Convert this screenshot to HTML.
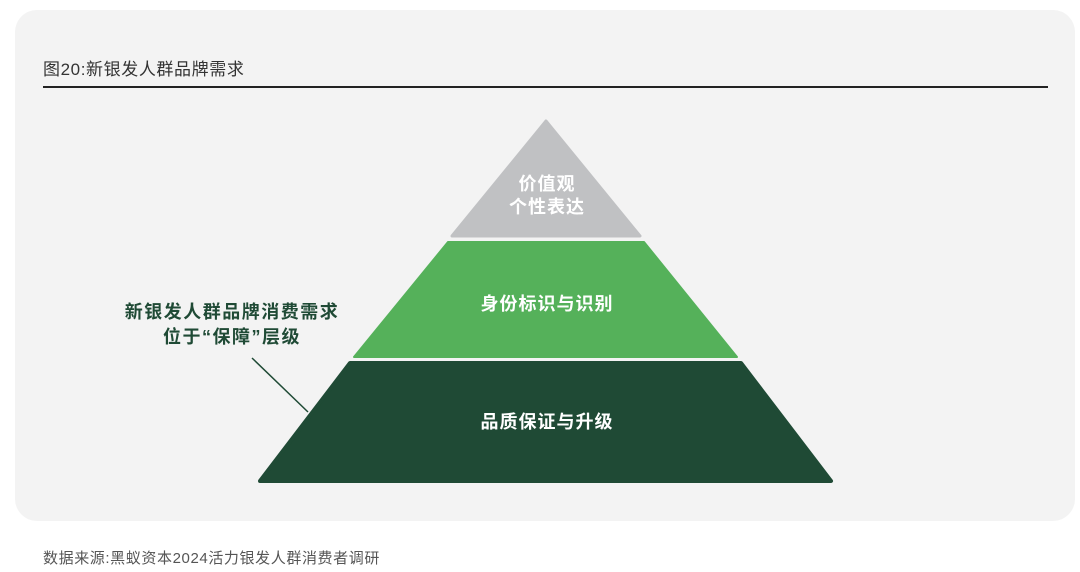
<!DOCTYPE html>
<html><head><meta charset="utf-8"><style>
body{margin:0;width:1080px;height:572px;background:#fff;position:relative;font-family:"Liberation Sans","Noto Sans CJK SC",sans-serif;overflow:hidden}
.panel{position:absolute;left:15px;top:10px;width:1060px;height:511px;background:#f3f3f3;border-radius:22px}
.t{position:absolute;white-space:nowrap}
</style></head><body>
<div class="panel"></div>
<div class="t" style="left:43px;top:55px;font-size:17px;letter-spacing:0.6px;color:#333">图20:新银发人群品牌需求</div>
<div style="position:absolute;left:43px;top:86px;width:1005px;height:1.5px;background:#222"></div>
<svg style="position:absolute;left:0;top:0" width="1080" height="572">
<polygon points="546,121 640,236 452,236" fill="#c0c1c3" stroke="#c0c1c3" stroke-width="3" stroke-linejoin="round"/>
<polygon points="448,242 644,242 737,357 354,357" fill="#55b15a" stroke="#55b15a" stroke-width="2" stroke-linejoin="round"/>
<polygon points="350,363 741,363 831,481 260,481" fill="#1f4a35" stroke="#1f4a35" stroke-width="4" stroke-linejoin="round"/>
<line x1="252" y1="358" x2="308" y2="412" stroke="#1f4a35" stroke-width="1.5"/>
<g font-family="Liberation Sans, Noto Sans CJK SC, sans-serif" font-weight="bold" fill="#fff" text-anchor="middle" font-size="18" letter-spacing="1">
<text x="547" y="190">价值观</text>
<text x="547" y="213">个性表达</text>
<text x="547" y="310">身份标识与识别</text>
<text x="547" y="428">品质保证与升级</text>
</g>
<g font-family="Liberation Sans, Noto Sans CJK SC, sans-serif" font-weight="bold" fill="#1f4a35" text-anchor="middle" font-size="18" letter-spacing="1.5">
<text x="232" y="318">新银发人群品牌消费需求</text>
<text x="232" y="343">位于“保障”层级</text>
</g>
</svg>
<div class="t" style="left:43px;top:547px;font-size:15px;letter-spacing:0.6px;color:#555">数据来源:黑蚁资本2024活力银发人群消费者调研</div>
</body></html>
